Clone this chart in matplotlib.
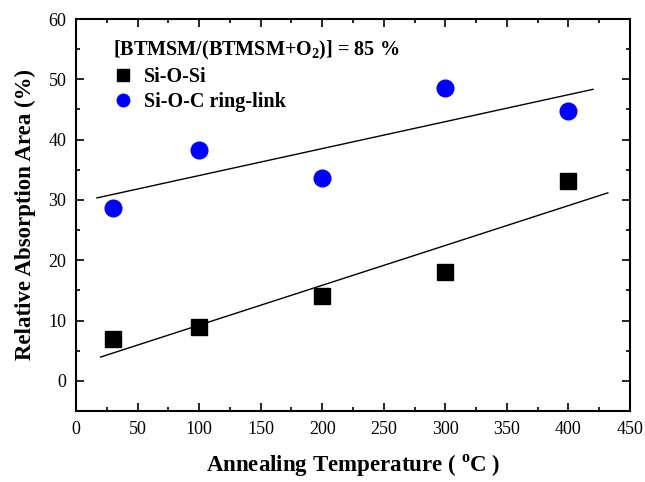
import numpy as np
import matplotlib
matplotlib.use("Agg")
import matplotlib.pyplot as plt
from matplotlib.ticker import MultipleLocator

temps = [30, 100, 200, 300, 400]
si_o_si = [7.0, 9.0, 14.0, 18.0, 33.2]
si_o_c = [28.6, 38.3, 33.6, 48.6, 44.8]

plt.rcParams['font.family'] = ['Liberation Serif', 'DejaVu Serif']
plt.rcParams['mathtext.fontset'] = 'custom'
plt.rcParams['mathtext.rm'] = 'Liberation Serif'
plt.rcParams['mathtext.bf'] = 'Liberation Serif:bold'

fig = plt.figure(figsize=(6.45, 4.82), dpi=100)
ax = fig.add_axes([76 / 645, 71 / 482, 554 / 645, 392 / 482])

ax.plot(temps, si_o_si, 's', color='black', markersize=11, label='Si-O-Si', linestyle='none')
ax.plot(temps, si_o_c, 'o', color='#0000ff', markersize=12, label='Si-O-C ring-link', linestyle='none')

for ys, (x0, x1) in [(si_o_si, (20, 432)), (si_o_c, (17, 420))]:
    k, b = np.polyfit(temps, ys, 1)
    xs = np.array([x0, x1])
    ax.plot(xs, k * xs + b, color='black', linewidth=1.0)

ax.set_xlim(0, 450)
ax.set_ylim(-5, 60)
ax.xaxis.set_major_locator(MultipleLocator(50))
ax.xaxis.set_minor_locator(MultipleLocator(25))
ax.yaxis.set_major_locator(MultipleLocator(10))
ax.yaxis.set_minor_locator(MultipleLocator(5))
ax.tick_params(which='both', direction='in', top=True, right=True, labelsize=13, width=1.2, pad=7)
ax.tick_params(which='major', length=6)
ax.tick_params(which='minor', length=3.2)
for s in ax.spines.values():
    s.set_linewidth(1.5)

ax.set_xlabel('Annealing Temperature ( $^{\\mathbf{o}}$C )', fontsize=16.5, fontweight='bold', labelpad=11)
ax.set_ylabel('Relative Absorption Area (%)', fontsize=16.5, fontweight='bold', labelpad=9)

leg = ax.legend(loc='upper left', bbox_to_anchor=(0.042, 0.985), frameon=False,
                title='[BTMSM/(BTMSM+O$_\\mathbf{2}$)] = 85 %',
                prop={'weight': 'bold', 'size': 14.5}, handletextpad=0.5,
                labelspacing=0.25, borderpad=0.2, handlelength=1.0, markerscale=0.75)
leg.get_title().set_fontweight('bold')
leg.get_title().set_fontsize(14.5)
leg._legend_box.align = 'left'

fig.savefig('out.png', dpi=100)
